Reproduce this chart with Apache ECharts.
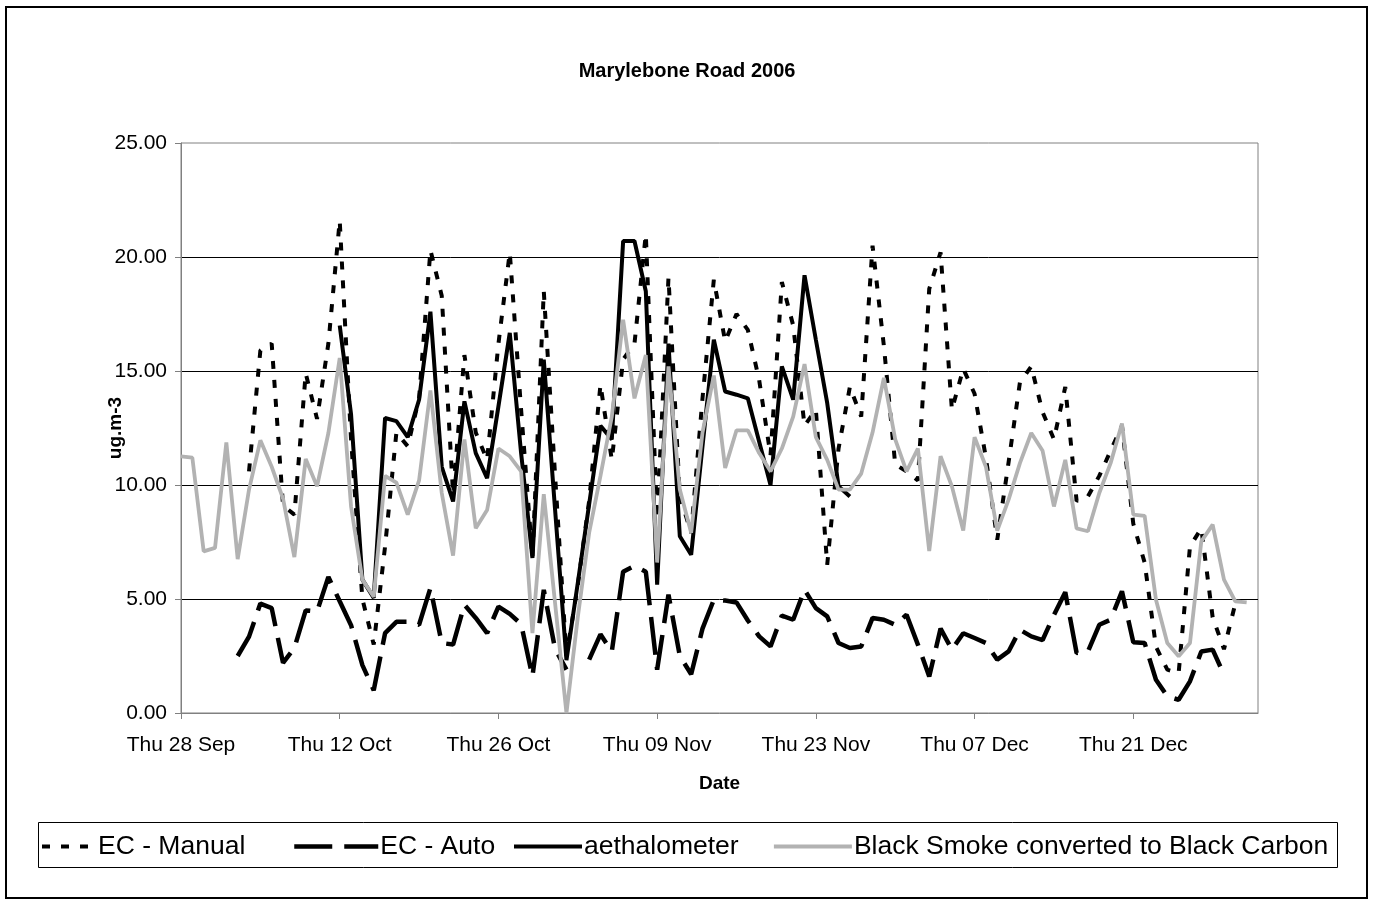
<!DOCTYPE html>
<html>
<head>
<meta charset="utf-8">
<title>Marylebone Road 2006</title>
<script src="https://cdn.jsdelivr.net/npm/echarts/dist/echarts.min.js"></script>
<style>
  html, body { margin: 0; padding: 0; background: #fff; }
  #chart { width: 1374px; height: 905px; }
</style>
</head>
<body>
<div id="chart"></div>
<script>
// x axis = days since Thu 28 Sep 2006 (one value per day, null = no data)
const startDate = '2006-09-28';
const dayCount = 95;
const tickLabels = ['Thu 28 Sep', 'Thu 12 Oct', 'Thu 26 Oct', 'Thu 09 Nov', 'Thu 23 Nov', 'Thu 07 Dec', 'Thu 21 Dec'];
const seriesNames = ['EC - Manual', 'EC - Auto', 'aethalometer', 'Black Smoke converted to Black Carbon'];

const ecManual = [
  null, null, null, null, null, null, 10.6, 15.9, 16.2, 9.1,
  8.7, 14.9, 12.9, 16.2, 21.6, 12.0, 5.0, 3.0, 7.3, 12.3,
  11.7, 13.8, 20.3, 18.3, 9.6, 15.7, 12.3, 11.1, 16.2, 20.2,
  13.3, 6.8, 18.5, 10.4, 2.5, 5.6, 9.3, 14.4, 11.1, 15.5,
  16.2, 21.0, 8.5, 19.1, 9.5, 7.9, 13.8, 19.0, 16.3, 17.5,
  16.8, 14.6, 11.3, 18.9, 17.0, 12.6, 13.3, 6.5, 11.6, 14.3,
  13.0, 20.5, 16.1, 10.9, 10.6, 10.2, 18.6, 20.2, 13.3, 15.1,
  14.0, 11.2, 7.6, 11.0, 14.5, 15.2, 13.2, 12.0, 14.3, 9.3,
  9.5, 10.4, 11.5, 12.6, 8.3, 6.6, 2.9, 1.9, 1.75, 7.3,
  8.1, 4.2, 2.8, 4.8, null
];

const ecAuto = [
  null, null, null, null, null, 2.5, 3.35, 4.8, 4.6, 2.2,
  2.85, 4.5, 4.45, 5.97, 4.9, 3.85, 2.1, 1.0, 3.5, 4.0,
  4.0, 3.87, 5.48, 3.07, 3.0, 4.75, 4.17, 3.5, 4.67, 4.35,
  3.9, 1.6, 5.4, 2.8, 1.9, null, 2.34, 3.45, 2.7, 6.2,
  6.45, 6.2, 1.9, 5.19, 2.5, 1.7, 3.7, 4.97, 4.93, 4.85,
  4.06, 3.36, 2.92, 4.27, 4.09, 5.41, 4.6, 4.24, 3.07, 2.85,
  2.92, 4.17, 4.09, 3.87, 4.31, 3.0, 1.6, 3.7, 2.78, 3.5,
  3.29, 3.07, 2.34, 2.7, 3.65, 3.36, 3.2, 4.3, 5.3, 2.63,
  2.7, 3.87, 4.09, 5.34, 3.1, 3.07, 1.46, 0.73, 0.58, 1.39,
  2.7, 2.78, 1.68, null, null
];

const aethalometer = [
  null, null, null, null, null, null, null, null, null, null,
  null, null, null, null, 17.0, 13.1, 5.85, 5.05, 12.94, 12.8,
  12.1, 13.74, 17.6, 10.8, 9.28, 13.67, 11.4, 10.3, 13.45, 16.67,
  11.4, 6.8, 15.5, 8.9, 2.32, 5.7, 9.15, 12.6, 12.0, 20.7,
  20.7, 18.5, 5.63, 16.2, 7.75, 6.94, 11.7, 16.37, 14.1, 13.96,
  13.8, 11.9, 10.0, 15.2, 13.74, 19.2, 16.37, 13.6, 9.94, 9.5,
  null, null, null, null, null, null, null, null, null, null,
  null, null, null, null, null, null, null, null, null, null,
  null, null, null, null, null, null, null, null, null, null,
  null, null, null, null, null
];

const blackSmoke = [
  11.26, 11.2, 7.09, 7.24, 11.87, 6.75, 9.8, 11.96, 10.8, 9.4,
  6.84, 11.14, 9.94, 12.28, 15.57, 9.06, 5.85, 5.1, 10.4, 10.1,
  8.7, 10.2, 14.15, 9.65, 6.9, 12.0, 8.1, 8.9, 11.6, 11.26,
  10.6, 3.5, 9.6, 4.8, 0.0, 4.2, 7.9, 10.4, 13.0, 17.25,
  13.8, 15.7, 6.6, 15.2, 9.8, 7.9, 12.3, 14.8, 10.75, 12.4,
  12.4, 11.4, 10.6, 11.6, 13.0, 15.3, 12.1, 11.1, 9.8, 9.8,
  10.5, 12.3, 14.7, 12.0, 10.6, 11.6, 7.1, 11.26, 9.94, 8.0,
  12.1, 10.8, 8.0, 9.36, 10.96, 12.28, 11.5, 9.06, 11.1, 8.1,
  7.97, 9.65, 10.96, 12.7, 8.7, 8.65, 4.97, 3.07, 2.49, 3.07,
  7.53, 8.26, 5.85, 4.9, 4.85
];

const fontFamily = 'Arial, "Liberation Sans", sans-serif';

const toPoints = (arr) => arr.map((v, i) => [i, v == null ? '-' : v]);

const lineStyles = [
  { color: '#000', width: 4, type: [8, 11], cap: 'butt' },
  { color: '#000', width: 4.5, type: [38, 12], cap: 'butt' },
  { color: '#000', width: 4 },
  { color: '#b2b2b2', width: 3.8 }
];

// one legend box per entry so each sample sits where the original puts it
const legendSlots = [
  { left: 40, width: 54 },
  { left: 292, width: 84 },
  { left: 512, width: 68 },
  { left: 772, width: 78 }
];

const chart = echarts.init(document.getElementById('chart'));

const options = {
  animation: false,
  backgroundColor: '#fff',
  textStyle: { fontFamily: fontFamily, color: '#000' },
  title: {
    text: 'Marylebone Road 2006',
    left: 'center',
    top: 56,
    textStyle: { fontSize: 20, fontWeight: 'bold', color: '#000', fontFamily: fontFamily }
  },
  graphic: [
    {
      type: 'rect',
      shape: { x: 6, y: 7, width: 1361, height: 891 },
      style: { fill: 'none', stroke: '#000', lineWidth: 2 },
      z: 100
    },
    {
      type: 'rect',
      shape: { x: 38.5, y: 822.5, width: 1299, height: 45 },
      style: { fill: 'none', stroke: '#000', lineWidth: 1 },
      z: 100
    }
  ],
  grid: {
    left: 181,
    right: 116,
    top: 143,
    bottom: 192,
    show: true,
    borderColor: '#808080',
    borderWidth: 1
  },
  legend: legendSlots.map((slot, i) => ({
    left: slot.left,
    top: 833,
    padding: 0,
    itemWidth: slot.width,
    itemHeight: 14,
    itemStyle: { opacity: 0 },
    lineStyle: Object.assign({}, lineStyles[i]),
    textStyle: { fontSize: 26.5, color: '#000', fontFamily: fontFamily, padding: [0, 0, 0, -3] },
    data: [seriesNames[i]],
    selectedMode: false
  })),
  xAxis: {
    type: 'value',
    min: 0,
    max: dayCount,
    interval: 14,
    name: 'Date',
    nameLocation: 'middle',
    nameGap: 61,
    nameMoveOverlap: false,
    nameTextStyle: { fontSize: 19, fontWeight: 'bold', color: '#000', verticalAlign: 'top' },
    axisLine: { show: true, lineStyle: { color: '#808080', width: 1 } },
    axisTick: { show: true, length: 6, lineStyle: { color: '#808080' } },
    axisLabel: {
      fontSize: 21,
      color: '#000',
      margin: 22,
      showMaxLabel: false,
      formatter: (v) => tickLabels[v / 14] || ''
    },
    splitLine: { show: false }
  },
  yAxis: {
    type: 'value',
    min: 0,
    max: 25,
    interval: 5,
    name: 'ug.m-3',
    nameLocation: 'middle',
    nameGap: 56,
    nameMoveOverlap: false,
    nameRotate: 90,
    nameTextStyle: { fontSize: 19, fontWeight: 'bold', color: '#000' },
    axisLine: { show: true, lineStyle: { color: '#808080', width: 1 } },
    axisTick: { show: true, length: 6, lineStyle: { color: '#808080' } },
    axisLabel: {
      fontSize: 21,
      color: '#000',
      margin: 14,
      formatter: (v) => v.toFixed(2)
    },
    splitLine: { show: true, showMinLine: false, showMaxLine: false, lineStyle: { color: '#000', width: 1 } }
  },
  series: [ecManual, ecAuto, aethalometer, blackSmoke].map((values, i) => ({
    name: seriesNames[i],
    type: 'line',
    symbol: 'none',
    data: toPoints(values),
    lineStyle: lineStyles[i],
    itemStyle: { color: lineStyles[i].color }
  }))
};

chart.setOption(options);
</script>
</body>
</html>
